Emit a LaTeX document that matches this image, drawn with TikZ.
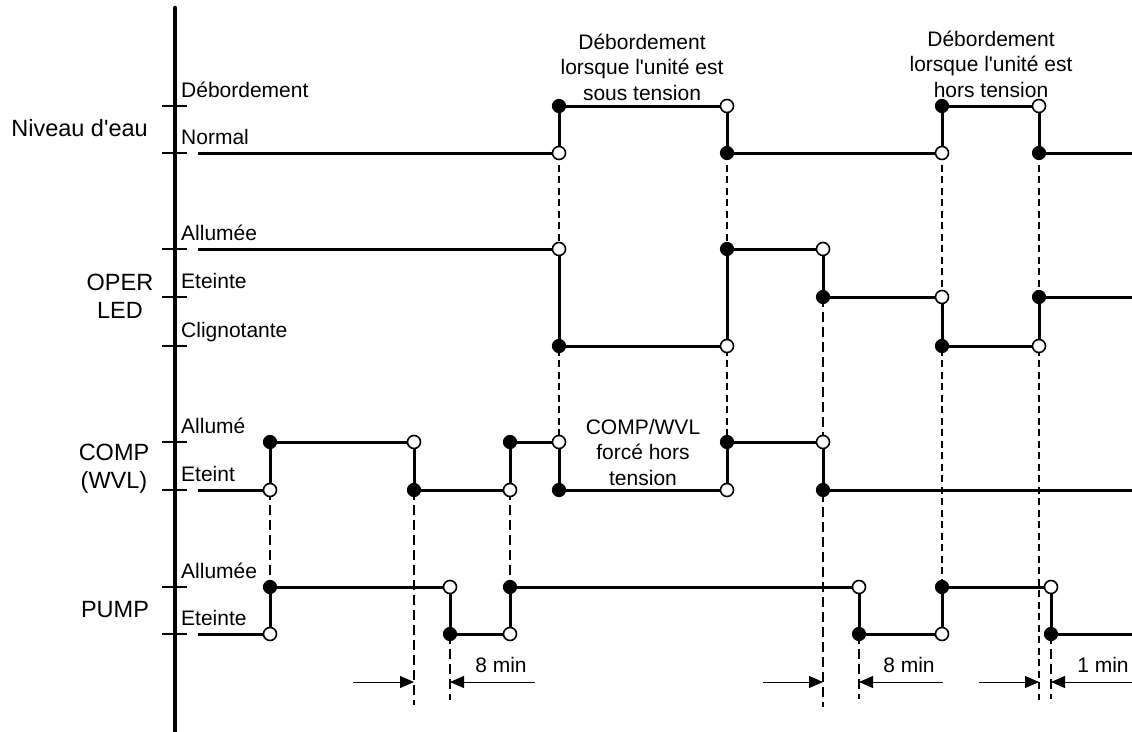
\documentclass[tikz,border=0pt]{standalone}
\usepackage{fontspec}
\setmainfont{Liberation Sans}
\usetikzlibrary{arrows.meta}
\pgfdeclarelayer{bg}
\pgfsetlayers{bg,main}

\begin{document}
\begin{tikzpicture}[x=1pt,y=-1pt,
  sig/.style={line width=3pt},
  axisline/.style={line width=4.5pt, line cap=round},
  tickline/.style={line width=1.8pt},
  ondot/.style={circle, fill=black, draw=black, line width=1.2pt, inner sep=0pt, minimum size=13pt},
  offdot/.style={circle, fill=white, draw=black, line width=1.6pt, inner sep=0pt, minimum size=13pt},
  longdash/.style={line width=1.6pt, dash pattern=on 10pt off 5pt},
  shortdash/.style={line width=1.6pt, dash pattern=on 7pt off 4.5pt},
  dim/.style={line width=0.9pt, -{Triangle[length=14pt,width=12pt]}},
  level/.style={anchor=base west, font=\fontsize{21}{25}\selectfont, inner sep=0pt},
  signame/.style={align=center, font=\fontsize{23.5}{28}\selectfont, inner sep=0pt},
  note/.style={align=center, font=\fontsize{21}{25.5}\selectfont, inner sep=0pt},
]
\useasboundingbox (0,0) rectangle (1132,731);

% time axis and level ticks
\draw[axisline] (175,8) -- (175,735);
\foreach \y in {106,153,249,297,346,442,490,587,634}
  \draw[tickline] (162,\y) -- (187,\y);

% signal names (anchor base = baseline of the last line)
\node[signame, anchor=base east] (nname) at (148,136) {Niveau d\textquotesingle eau};
\node[signame, anchor=base] (oname) at (120,318) {OPER\\LED};
\node[signame, anchor=base] (cname) at (114,488) {COMP\\(WVL)};
\node[signame, anchor=base] (pname) at (115,617) {PUMP};

% level names
\node[level] (lnH) at (181,97) {Débordement};
\node[level] (lnL) at (181,144) {Normal};
\node[level] (loA) at (181,240) {Allumée};
\node[level] (loE) at (181,288) {Eteinte};
\node[level] (loC) at (181,337) {Clignotante};
\node[level] (lcA) at (181,433) {Allumé};
\node[level] (lcE) at (181,481) {Eteint};
\node[level] (lpA) at (181,578) {Allumée};
\node[level] (lpE) at (181,625) {Eteinte};

% transition dots: water level
\node[offdot] (a1) at (559,153) {};
\node[ondot]  (a2) at (559,106) {};
\node[offdot] (a3) at (727,106) {};
\node[ondot]  (a4) at (727,153) {};
\node[offdot] (a5) at (942,153) {};
\node[ondot]  (a6) at (942,106) {};
\node[offdot] (a7) at (1039,106) {};
\node[ondot]  (a8) at (1039,153) {};
% OPER LED
\node[offdot] (b1) at (559,249) {};
\node[ondot]  (b2) at (559,346) {};
\node[offdot] (b3) at (727,346) {};
\node[ondot]  (b4) at (727,249) {};
\node[offdot] (b5) at (823,249) {};
\node[ondot]  (b6) at (823,297) {};
\node[offdot] (b7) at (942,297) {};
\node[ondot]  (b8) at (942,346) {};
\node[offdot] (b9) at (1039,346) {};
\node[ondot]  (b10) at (1039,297) {};
% COMP (WVL)
\node[offdot] (c1) at (270,490) {};
\node[ondot]  (c2) at (270,442) {};
\node[offdot] (c3) at (414,442) {};
\node[ondot]  (c4) at (414,490) {};
\node[offdot] (c5) at (510,490) {};
\node[ondot]  (c6) at (510,442) {};
\node[offdot] (c7) at (559,442) {};
\node[ondot]  (c8) at (559,490) {};
\node[offdot] (c9) at (727,490) {};
\node[ondot]  (c10) at (727,442) {};
\node[offdot] (c11) at (823,442) {};
\node[ondot]  (c12) at (823,490) {};
% PUMP
\node[offdot] (d1) at (270,634) {};
\node[ondot]  (d2) at (270,587) {};
\node[offdot] (d3) at (450,587) {};
\node[ondot]  (d4) at (450,634) {};
\node[offdot] (d5) at (510,634) {};
\node[ondot]  (d6) at (510,587) {};
\node[offdot] (d7) at (859,587) {};
\node[ondot]  (d8) at (859,634) {};
\node[offdot] (d9) at (942,634) {};
\node[ondot]  (d10) at (942,587) {};
\node[offdot] (d11) at (1051,587) {};
\node[ondot]  (d12) at (1051,634) {};

% start and end of each trace
\coordinate (nS) at (198,153);  \coordinate (nE) at (1132,153);
\coordinate (oS) at (198,249);  \coordinate (oE) at (1132,297);
\coordinate (cS) at (198,490);  \coordinate (cE) at (1132,490);
\coordinate (pS) at (198,634);  \coordinate (pE) at (1132,634);

% lower ends of the guide lines
\coordinate (g414) at (414,705);
\coordinate (g450) at (450,700);
\coordinate (g823) at (823,707);
\coordinate (g859) at (859,699);
\coordinate (g1039) at (1039,700);
\coordinate (g1051) at (1051,699);

% interval markers
\coordinate (m1s) at (353,682);  \coordinate (m1e) at (414,682);
\coordinate (m2s) at (535,682);  \coordinate (m2e) at (450,682);
\coordinate (m3s) at (763,682);  \coordinate (m3e) at (823,682);
\coordinate (m4s) at (943,682);  \coordinate (m4e) at (859,682);
\coordinate (m5s) at (979,682);  \coordinate (m5e) at (1039,682);
\coordinate (m6s) at (1132,682); \coordinate (m6e) at (1051,682);

\begin{pgfonlayer}{bg}
  % traces
  \draw[sig] (nS) -- (a1.center) -- (a2.center) -- (a3.center) -- (a4.center)
    -- (a5.center) -- (a6.center) -- (a7.center) -- (a8.center) -- (nE);
  \draw[sig] (oS) -- (b1.center) -- (b2.center) -- (b3.center) -- (b4.center)
    -- (b5.center) -- (b6.center) -- (b7.center) -- (b8.center) -- (b9.center)
    -- (b10.center) -- (oE);
  \draw[sig] (cS) -- (c1.center) -- (c2.center) -- (c3.center) -- (c4.center)
    -- (c5.center) -- (c6.center) -- (c7.center) -- (c8.center) -- (c9.center)
    -- (c10.center) -- (c11.center) -- (c12.center) -- (cE);
  \draw[sig] (pS) -- (d1.center) -- (d2.center) -- (d3.center) -- (d4.center)
    -- (d5.center) -- (d6.center) -- (d7.center) -- (d8.center) -- (d9.center)
    -- (d10.center) -- (d11.center) -- (d12.center) -- (pE);

  % guide lines
  \draw[shortdash] (a1.center) -- (c7.center);
  \draw[shortdash] (a4.center) -- (c10.center);
  \draw[shortdash] (a5.center) -- (d10.center);
  \draw[shortdash] (a8.center) -- (g1039);
  \draw[longdash] (c1.center) -- (d2.center);
  \draw[longdash] (c4.center) -- (g414);
  \draw[longdash] (d4.center) -- (g450);
  \draw[longdash] (c5.center) -- (d6.center);
  \draw[longdash] (b6.center) -- (g823);
  \draw[longdash] (d8.center) -- (g859);
  \draw[longdash] (d12.center) -- (g1051);
\end{pgfonlayer}

% interval arrows
\draw[dim] (m1s) -- (m1e);
\draw[dim] (m2s) -- (m2e);
\draw[dim] (m3s) -- (m3e);
\draw[dim] (m4s) -- (m4e);
\draw[dim] (m5s) -- (m5e);
\draw[dim] (m6s) -- (m6e);

\node[note, anchor=base] (t1) at (501,672) {8 min};
\node[note, anchor=base] (t2) at (909,672) {8 min};
\node[note, anchor=base] (t3) at (1103,672) {1 min};

% notes (anchor base = baseline of the last line)
\node[note, anchor=base] (n1) at (642,100) {Débordement\\lorsque l\textquotesingle unité est\\sous tension};
\node[note, anchor=base] (n2) at (991,97) {Débordement\\lorsque l\textquotesingle unité est\\hors tension};
\node[note, anchor=base] (n3) at (643,485) {COMP/WVL\\forcé hors\\tension};
\end{tikzpicture}
\end{document}
